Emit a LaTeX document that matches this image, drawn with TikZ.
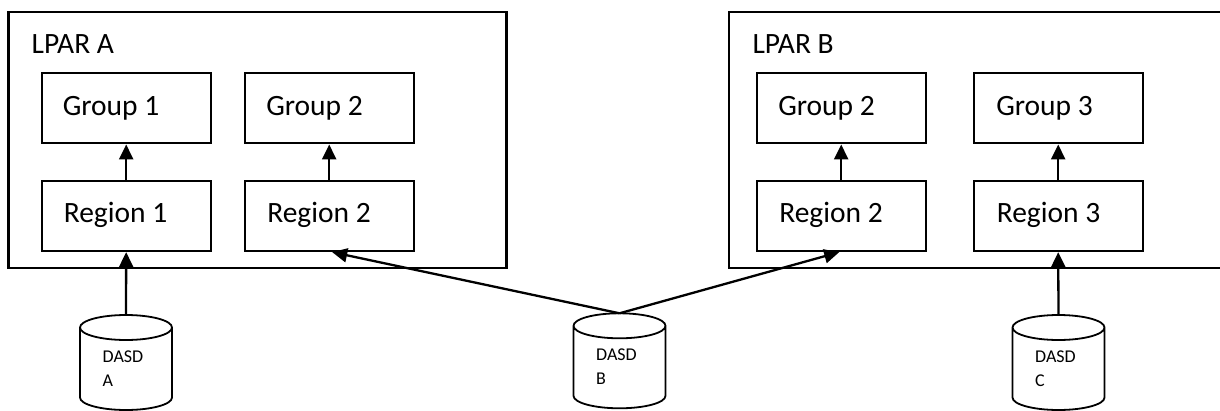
\documentclass[tikz,border=0pt]{standalone}
\usepackage{fontspec}
\setmainfont{Carlito}
\usetikzlibrary{arrows.meta,calc}
\begin{document}
\begin{tikzpicture}[x=1pt,y=-1pt,
  frame/.style={draw,line width=2.3pt,rectangle,inner sep=0pt},
  lpar/.style={frame,minimum height=256pt},
  unit/.style={frame,minimum width=169pt,minimum height=70pt},
  lbl/.style={anchor=base west,inner sep=0pt,font=\fontsize{29.5}{35}\selectfont},
  small/.style={anchor=base west,inner sep=0pt,font=\fontsize{18}{20}\selectfont},
  link/.style={line width=2.3pt,-{Triangle[length=15pt,width=14pt]}},
  pics/dasd/.style={code={
    \draw[line width=1.8pt,fill=white]
      (-46,0) -- (-46,70) arc[start angle=180,end angle=0,x radius=46,y radius=12.5]
      -- (46,0) arc[start angle=0,end angle=-360,x radius=46,y radius=12.5];
    \coordinate (-top) at (0,-12.5);
    \node[small] (-name) at (-23.5,35) {DASD};
    \node[small] (-id) at (-23.5,59) {#1};
  }}]
\useasboundingbox (0,0) rectangle (1220,410);
\clip (0,0) rectangle (1220,410);

% logical partitions
\node[lpar,minimum width=498pt] (lparA) at (257.6,140) {};
\node[lpar,minimum width=495pt] (lparB) at (976.5,140) {};
\node[lbl] (lparAname) at (31.5,53.3) {LPAR A};
\node[lbl] (lparBname) at (752.3,53.3) {LPAR B};

% groups and regions in LPAR A
\node[unit] (gA1) at (126.2,108.3) {};
\node[unit] (rA1) at (126.2,216) {};
\node[unit] (gA2) at (329.2,108.3) {};
\node[unit] (rA2) at (329.2,216) {};
% groups and regions in LPAR B
\node[unit] (gB2) at (841.2,108.3) {};
\node[unit] (rB2) at (841.2,216) {};
\node[unit] (gB3) at (1058.2,108.3) {};
\node[unit] (rB3) at (1058.2,216) {};

\node[lbl] at ($(gA1.west)+(22,6.7)$) {Group 1};
\node[lbl] at ($(rA1.west)+(23,6)$) {Region 1};
\node[lbl] at ($(gA2.west)+(22.5,6.7)$) {Group 2};
\node[lbl] at ($(rA2.west)+(23.5,6)$) {Region 2};
\node[lbl] at ($(gB2.west)+(22.5,6.7)$) {Group 2};
\node[lbl] at ($(rB2.west)+(23.5,6)$) {Region 2};
\node[lbl] at ($(gB3.west)+(23.5,6.7)$) {Group 3};
\node[lbl] at ($(rB3.west)+(24,6)$) {Region 3};

% region -> group
\draw[link] (rA1) -- (gA1);
\draw[link] (rA2) -- (gA2);
\draw[link] (rB2) -- (gB2);
\draw[link] (rB3) -- (gB3);

% volumes
\pic (dA) at (126,327.5) {dasd=A};
\pic (dB) at (619.5,325.8) {dasd=B};
\pic (dC) at (1058.5,327.5) {dasd=C};

\draw[link] (dA-top) -- (rA1.south);
\draw[link] (dB-top) -- ($(rA2.south)+(3,0)$);
\draw[link] (dB-top) -- ($(rB2.south)+(-2,0)$);
\draw[link] (dC-top) -- (rB3.south);
\end{tikzpicture}
\end{document}
